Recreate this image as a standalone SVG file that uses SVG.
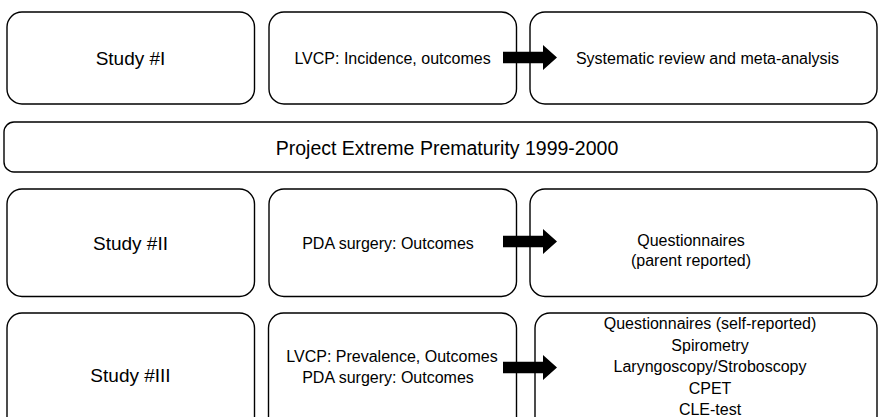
<svg xmlns="http://www.w3.org/2000/svg" width="878" height="417" viewBox="0 0 878 417">
  <style>
    .box { fill: #ffffff; stroke: #000000; stroke-width: 1.4; }
    .t { font-family: "Liberation Sans", Arial, sans-serif; fill: #000000; text-anchor: middle; }
    .big { font-size: 19px; }
    .proj { font-size: 19.5px; }
    .sm { font-size: 16px; }
    .arrow { fill: #000000; }
  </style>
  <defs>
    <path id="blockArrow" d="M0,-5.8 H40 V-12.5 L54,0 L40,12.5 V5.8 H0 Z"/>
  </defs>
  <rect width="878" height="417" fill="#ffffff"/>

  <!-- Row 1 -->
  <g id="study1">
    <rect class="box" x="7" y="12" width="247.5" height="92" rx="15" ry="15"/>
    <text class="t big" x="130.5" y="65">Study #I</text>
  </g>
  <g id="lvcp-incidence">
    <rect class="box" x="269" y="12" width="247.5" height="92" rx="15" ry="15"/>
    <text class="t sm" x="392.5" y="64">LVCP: Incidence, outcomes</text>
  </g>
  <g id="systematic-review">
    <rect class="box" x="530" y="12" width="347" height="92" rx="15" ry="15"/>
    <text class="t sm" x="707.5" y="64">Systematic review and meta-analysis</text>
  </g>

  <!-- Row 2 -->
  <g id="project">
    <rect class="box" x="4" y="122" width="873" height="50" rx="10" ry="10"/>
    <text class="t proj" x="447" y="155">Project Extreme Prematurity 1999-2000</text>
  </g>

  <!-- Row 3 -->
  <g id="study2">
    <rect class="box" x="7" y="189" width="247.5" height="107.5" rx="15" ry="15"/>
    <text class="t big" x="130.5" y="250">Study #II</text>
  </g>
  <g id="pda-surgery">
    <rect class="box" x="269" y="189" width="247.5" height="107.5" rx="15" ry="15"/>
    <text class="t sm" x="388" y="249">PDA surgery: Outcomes</text>
  </g>
  <g id="questionnaires-parent">
    <rect class="box" x="530" y="189" width="347" height="107.5" rx="15" ry="15"/>
    <text class="t sm" x="691" y="246">Questionnaires</text>
    <text class="t sm" x="691" y="266">(parent reported)</text>
  </g>

  <!-- Row 4 -->
  <g id="study3">
    <rect class="box" x="7" y="313" width="247.5" height="124" rx="15" ry="15"/>
    <text class="t big" x="130.5" y="382">Study #III</text>
  </g>
  <g id="lvcp-prevalence">
    <rect class="box" x="268.5" y="313" width="248" height="124" rx="15" ry="15"/>
    <text class="t sm" x="392" y="362">LVCP: Prevalence, Outcomes</text>
    <text class="t sm" x="388" y="383">PDA surgery: Outcomes</text>
  </g>
  <g id="assessments">
    <rect class="box" x="535" y="313" width="342" height="124" rx="15" ry="15"/>
    <text class="t sm" x="710" y="329">Questionnaires (self-reported)</text>
    <text class="t sm" x="710" y="350.5">Spirometry</text>
    <text class="t sm" x="710" y="372">Laryngoscopy/Stroboscopy</text>
    <text class="t sm" x="710" y="393.5">CPET</text>
    <text class="t sm" x="710" y="415">CLE-test</text>
  </g>

  <!-- Connectors -->
  <g id="connectors" class="arrow">
    <use href="#blockArrow" x="503" y="57.5"/>
    <use href="#blockArrow" x="503" y="241.5"/>
    <use href="#blockArrow" x="503" y="367.5"/>
  </g>
</svg>
